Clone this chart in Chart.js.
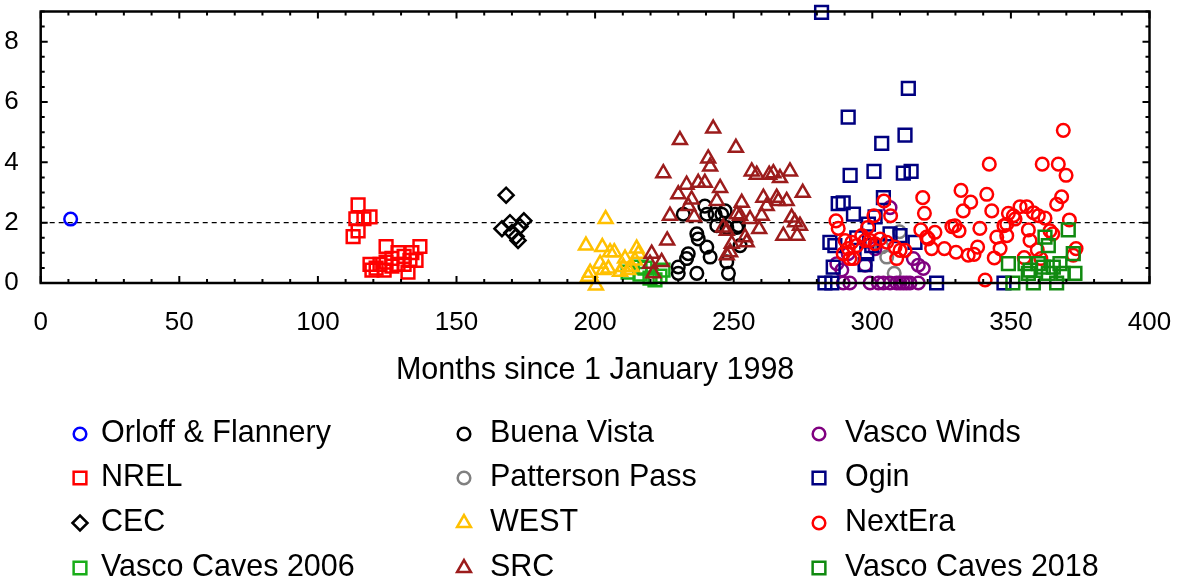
<!DOCTYPE html>
<html>
<head>
<meta charset="utf-8">
<title>Months since 1 January 1998</title>
<script src="https://cdn.jsdelivr.net/npm/chart.js@4.4.1/dist/chart.umd.min.js"></script>
<style>
  html, body { margin: 0; padding: 0; background: #fff; }
  #wrap { width: 1188px; height: 588px; }
</style>
</head>
<body>
<div id="wrap"><canvas id="chart" width="1188" height="588"></canvas></div>
<script>
// axis ticks and reference level
const xTicks = [0, 50, 100, 150, 200, 250, 300, 350, 400];
const yTicks = [0, 2, 4, 6, 8];
const refLevel = 2;

// [months, value] pairs per study
const orloff = [[10.8, 2.12]];
const nrel = [[114.5, 2.59], [113.7, 2.13], [116.6, 2.13], [118.8, 2.19], [112.7, 1.54], [114.5, 1.73],
  [124.6, 1.21], [118.8, 0.62], [121.0, 0.49], [122.4, 0.62], [119.5, 0.43], [124.6, 0.69], [126.7, 0.82],
  [128.9, 1.01], [131.1, 0.88], [128.9, 0.62], [132.5, 0.36], [133.2, 0.75], [135.4, 0.75], [136.8, 1.21],
  [126.7, 0.56], [123.9, 0.43], [131.1, 0.62], [133.9, 1.01]];
const cec = [[167.9, 2.91], [166.4, 1.80], [170.0, 1.67], [171.5, 1.54], [172.9, 1.87], [174.3, 2.06],
  [169.3, 2.00], [172.2, 1.41]];
const vascoCaves2006 = [[211.9, 0.36], [216.2, 0.53], [218.0, 0.49], [219.8, 0.16], [221.6, 0.10],
  [223.4, 0.23], [224.5, 0.43], [216.2, 0.29]];
const buenaVista = [[231.8, 2.28], [239.6, 2.55], [240.3, 2.28], [243.3, 2.28], [245.7, 2.28], [236.7, 1.63],
  [237.2, 1.46], [240.3, 1.19], [243.9, 1.90], [233.6, 0.97], [233.0, 0.81], [241.5, 0.86], [230.0, 0.53],
  [230.0, 0.32], [236.7, 0.32], [247.5, 0.70], [248.1, 0.32], [251.1, 1.84], [246.9, 2.39], [251.7, 1.90],
  [252.3, 1.24], [247.5, 1.84]];
const pattersonPass = [[305.2, 0.86], [307.9, 0.32], [309.8, 1.70], [303.5, 1.20]];
const west = [[203.8, 2.12], [196.7, 1.24], [202.6, 1.19], [205.4, 1.02], [206.9, 1.02], [201.8, 0.64],
  [204.8, 0.48], [198.2, 0.34], [197.5, 0.21], [200.3, -0.08], [210.8, 0.81], [210.2, 0.53], [213.2, 0.53],
  [215.0, 1.14], [215.6, 0.97], [214.4, 0.75], [212.0, 0.43], [209.0, 0.37], [203.0, 0.43]];
const src = [[242.6, 5.12], [230.6, 4.74], [250.8, 4.48], [240.8, 4.13], [241.5, 3.86], [224.6, 3.64],
  [239.6, 3.32], [237.2, 3.32], [233.0, 3.26], [245.1, 3.15], [230.0, 2.94], [234.8, 2.77], [243.9, 2.72],
  [233.6, 2.55], [227.0, 2.23], [235.7, 2.19], [246.2, 1.84], [247.5, 1.73], [226.0, 1.41], [249.3, 1.30],
  [247.5, 0.92], [220.4, 0.97], [219.8, 0.64], [224.0, 0.70], [221.0, 0.32], [251.1, 2.28], [256.5, 3.70],
  [258.3, 3.59], [262.8, 3.59], [264.3, 3.64], [266.7, 3.48], [270.3, 3.70], [274.9, 2.99], [252.9, 2.66],
  [260.7, 2.83], [261.9, 2.55], [265.5, 2.83], [266.1, 2.72], [269.1, 2.72], [252.3, 2.23], [255.9, 2.12],
  [260.1, 2.23], [270.9, 2.17], [272.1, 2.01], [273.9, 1.90], [259.2, 1.79], [267.9, 1.57], [272.9, 1.57],
  [254.1, 1.52], [254.7, 1.35], [248.7, 1.02]];
const vascoWinds = [[306.4, 2.50], [301.0, 1.14], [287.2, 0.64], [289.0, 0.43], [297.4, 0.59], [314.8, 0.81],
  [316.6, 0.59], [318.4, 0.48], [291.3, 0.97], [289.5, 0], [291.9, 0], [299.2, 0], [302.2, 0], [304.0, 0],
  [306.4, 0], [308.8, 0], [310.0, 0], [311.2, 0], [312.4, 0], [313.6, 0], [316.6, 0]];
const ogin = [[281.7, 8.97], [313.0, 6.45], [291.3, 5.50], [311.8, 4.90], [303.4, 4.63], [292.0, 3.57],
  [300.6, 3.70], [311.2, 3.64], [314.0, 3.70], [287.7, 2.63], [289.5, 2.66], [304.0, 2.83], [293.2, 2.28],
  [301.0, 2.19], [298.6, 1.95], [284.7, 1.35], [286.5, 1.24], [294.4, 1.50], [306.4, 1.63], [310.0, 1.57],
  [315.4, 1.35], [298.0, 0.97], [285.9, 0.53], [297.4, 0.61], [282.9, 0], [285.4, 0], [323.2, 0], [347.5, 0],
  [299.8, 1.24]];
const nextEra = [[368.9, 5.06], [342.2, 3.94], [361.3, 3.94], [367.1, 3.94], [369.9, 3.57], [332.0, 3.07],
  [341.3, 2.94], [318.2, 2.83], [335.5, 2.68], [332.8, 2.39], [343.1, 2.39], [318.8, 2.31], [368.3, 2.86],
  [366.5, 2.61], [353.3, 2.53], [355.7, 2.53], [349.1, 2.31], [350.9, 2.23], [358.1, 2.33], [359.9, 2.23],
  [362.3, 2.15], [371.1, 2.09], [304.2, 2.72], [300.6, 2.23], [306.6, 2.23], [286.9, 2.06], [287.7, 1.81],
  [298.3, 1.84], [317.5, 1.76], [322.6, 1.68], [328.7, 1.87], [331.3, 1.73], [338.8, 1.81], [347.5, 1.90],
  [356.3, 1.76], [364.1, 1.73], [319.6, 1.52], [344.9, 1.52], [348.5, 1.57], [356.9, 1.41], [365.1, 1.63],
  [321.4, 1.14], [326.0, 1.14], [330.2, 1.02], [334.6, 0.92], [336.7, 0.95], [338.0, 1.19], [346.1, 1.14],
  [344.0, 0.83], [354.8, 0.84], [359.5, 1.10], [360.8, 0.81], [373.5, 1.14], [340.7, 0.10], [372.5, 0.92],
  [296.2, 1.57], [290.2, 1.41], [292.6, 1.35], [294.4, 1.24], [299.2, 1.41], [302.8, 1.46], [305.2, 1.35],
  [308.2, 1.19], [310.0, 1.08], [311.8, 1.08], [289.5, 0.97], [291.9, 0.81], [293.2, 0.81], [308.8, 0.81],
  [297.4, 1.41], [291.3, 1.14], [301.0, 1.30], [320.2, 1.46], [351.5, 2.12], [329.8, 1.90], [348.5, 1.95]];
const vascoCaves2018 = [[370.7, 1.76], [362.3, 1.52], [363.5, 1.24], [372.5, 0.97], [349.1, 0.64],
  [355.1, 0.64], [359.9, 0.64], [367.7, 0.64], [356.9, 0.43], [361.7, 0.53], [365.3, 0.53], [363.5, 0.32],
  [368.9, 0.32], [373.1, 0.32], [358.1, 0], [366.5, 0], [356.3, 0.32], [350.7, 0]];

const FONT = 'Liberation Sans, Arial, Helvetica, sans-serif';
const RADIUS = { circle: 6.3, rect: 9, rectRot: 7.5, triangle: 8 };
const STROKE = 2.5;

// legend order is column by column
const series = [
  { label: 'Orloff & Flannery', data: orloff, color: '#0000ff', shape: 'circle' },
  { label: 'NREL', data: nrel, color: '#ff0000', shape: 'rect' },
  { label: 'CEC', data: cec, color: '#000000', shape: 'rectRot' },
  { label: 'Vasco Caves 2006', data: vascoCaves2006, color: '#19ad19', shape: 'rect' },
  { label: 'Buena Vista', data: buenaVista, color: '#000000', shape: 'circle' },
  { label: 'Patterson Pass', data: pattersonPass, color: '#808080', shape: 'circle' },
  { label: 'WEST', data: west, color: '#ffc000', shape: 'triangle' },
  { label: 'SRC', data: src, color: '#9c1c1c', shape: 'triangle' },
  { label: 'Vasco Winds', data: vascoWinds, color: '#800080', shape: 'circle' },
  { label: 'Ogin', data: ogin, color: '#000080', shape: 'rect' },
  { label: 'NextEra', data: nextEra, color: '#ff0000', shape: 'circle' },
  { label: 'Vasco Caves 2018', data: vascoCaves2018, color: '#108a10', shape: 'rect' }
];

const datasets = series.map((s, i) => ({
  label: s.label,
  data: s.data.map(([x, y]) => ({ x, y })),
  pointStyle: s.shape,
  pointRadius: RADIUS[s.shape],
  pointHoverRadius: RADIUS[s.shape],
  pointBorderWidth: STROKE,
  borderColor: s.color,
  backgroundColor: 'rgba(0,0,0,0)',
  showLine: false,
  clip: false,
  order: series.length - 1 - i
}));

// dashed level line, boxed frame with inward ticks
const frame = {
  id: 'frame',
  beforeDatasetsDraw(chart) {
    const { ctx, chartArea: a, scales: { y } } = chart;
    const py = y.getPixelForValue(refLevel);
    ctx.save();
    ctx.strokeStyle = '#000';
    ctx.lineWidth = 1.2;
    ctx.setLineDash([5, 4]);
    ctx.beginPath();
    ctx.moveTo(a.left, py);
    ctx.lineTo(a.right, py);
    ctx.stroke();
    ctx.restore();
  },
  afterDatasetsDraw(chart) {
    const { ctx, chartArea: a, scales: { x, y } } = chart;
    ctx.save();
    ctx.strokeStyle = '#000';
    ctx.lineWidth = 2;
    ctx.beginPath();
    for (let v = 0; v <= 400; v += 10) {
      const px = x.getPixelForValue(v);
      const len = v % 50 === 0 ? 7 : 4;
      ctx.moveTo(px, a.bottom); ctx.lineTo(px, a.bottom - len);
      ctx.moveTo(px, a.top); ctx.lineTo(px, a.top + len);
    }
    for (let v = 0; v <= 9; v += 0.5) {
      const py = y.getPixelForValue(v);
      const len = v % 2 === 0 ? 7 : 4;
      ctx.moveTo(a.left, py); ctx.lineTo(a.left + len, py);
      ctx.moveTo(a.right, py); ctx.lineTo(a.right - len, py);
    }
    ctx.stroke();
    ctx.lineWidth = 2.5;
    ctx.strokeRect(a.left, a.top, a.right - a.left, a.bottom - a.top);
    ctx.restore();
  }
};

// three-column legend below the axis title
const gridLegend = {
  id: 'gridLegend',
  afterDraw(chart) {
    const ctx = chart.ctx;
    const markerX = [80, 464, 819];
    const textX = [101, 490, 845];
    const rowY = [434, 478, 523, 568];
    ctx.save();
    ctx.font = '30.5px ' + FONT;
    ctx.textBaseline = 'middle';
    ctx.textAlign = 'left';
    chart.data.datasets.forEach((ds, i) => {
      const col = Math.floor(i / 4), row = i % 4;
      ctx.strokeStyle = ds.borderColor;
      ctx.fillStyle = 'rgba(0,0,0,0)';
      ctx.lineWidth = STROKE;
      Chart.helpers.drawPoint(ctx, {
        pointStyle: ds.pointStyle, radius: ds.pointRadius, rotation: 0, borderWidth: STROKE
      }, markerX[col], rowY[row]);
      ctx.fillStyle = '#000';
      ctx.fillText(ds.label, textX[col], rowY[row]);
    });
    ctx.restore();
  }
};

new Chart(document.getElementById('chart'), {
  type: 'scatter',
  data: { datasets },
  options: {
    responsive: false,
    animation: false,
    devicePixelRatio: 1,
    layout: { padding: { top: 8, right: 38.5, bottom: 195, left: 0 } },
    plugins: { legend: { display: false }, tooltip: { enabled: false } },
    scales: {
      x: {
        type: 'linear',
        min: 0,
        max: 400,
        grid: { display: false },
        border: { display: false },
        afterBuildTicks: s => { s.ticks = xTicks.map(v => ({ value: v })); },
        afterFit: s => { s.height = 110; s.paddingLeft = 0; s.paddingRight = 0; },
        ticks: { color: '#000', font: { family: FONT, size: 26 }, padding: 16, maxRotation: 0, autoSkip: false },
        title: {
          display: true,
          text: 'Months since 1 January 1998',
          color: '#000',
          font: { family: FONT, size: 30.5 },
          padding: { top: 0, bottom: 4 }
        }
      },
      y: {
        type: 'linear',
        min: 0,
        max: 9,
        grid: { display: false },
        border: { display: false },
        afterBuildTicks: s => { s.ticks = yTicks.map(v => ({ value: v })); },
        afterFit: s => { s.width = 40.7; s.paddingTop = 0; s.paddingBottom = 0; },
        ticks: { color: '#000', font: { family: FONT, size: 26 }, padding: 14 }
      }
    }
  },
  plugins: [frame, gridLegend]
});
</script>
</body>
</html>
